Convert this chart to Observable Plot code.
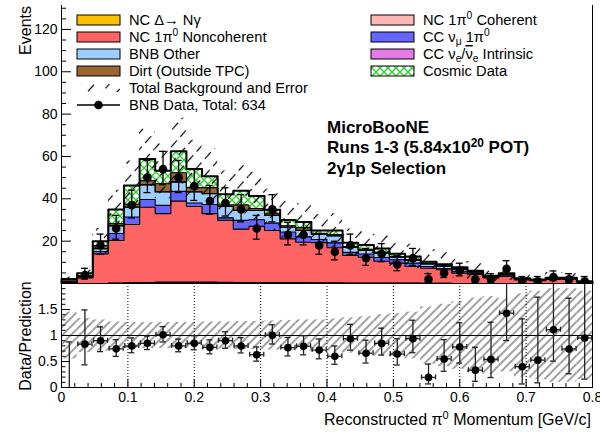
<!DOCTYPE html>
<html><head><meta charset="utf-8">
<script src="https://cdn.jsdelivr.net/npm/d3@7"></script>
<script src="https://cdn.jsdelivr.net/npm/@observablehq/plot@0.6"></script>
<style>
body{margin:0;background:#fff;}
#wrap{position:relative;width:600px;height:436px;font-family:"Liberation Sans",Arial,sans-serif;}
#wrap svg{position:absolute;left:0;}
</style></head><body><div id="wrap"></div>
<script>
// ---------------- data (34 bins, 0 - 0.8 GeV/c) ----------------
const xMin = 0, xMax = 0.8, nBins = 34;
const ncDelta       = [0,0,0,0.1,0.2,0.3,0.4,0.4,0.4,0.4,0.3,0.3,0.3,0.3,0.2,0.2,0.2,0.2,0.1,0.1,0.1,0.1,0.1,0.1,0.1,0,0,0,0,0,0,0,0,0];
const ncCoherent    = [0,0,0,0.1,0.2,0.2,0.3,0.3,0.3,0.3,0.3,0.2,0.2,0.2,0.2,0.2,0.1,0.1,0.1,0.1,0.1,0.1,0.1,0,0,0,0,0,0,0,0,0,0,0];
const ncNoncoherent = [0.3,2.6,14.0,20.1,27.5,35.5,32.3,38.2,35.7,32.3,29.2,25.2,26.5,24.5,20.7,19.1,19.0,16.6,13.0,12.2,10.3,9.4,7.8,7.1,6.4,4.9,4.3,2.6,3.3,1.7,1.3,1.9,1.9,0.7];
const ccNumu        = [0.1,0.2,1.1,3.3,3.5,3.7,3.9,4.6,1.6,4.3,1.2,4.1,3.1,3.5,3.2,2.5,1.5,2.3,1.5,1.5,1.8,1.6,1.6,0.8,0.6,0.9,0.5,0.3,0.3,0.2,0.1,0.2,0.2,0.1];
const bnbOther      = [0.3,0.5,1.3,3.6,4.6,6.9,6.3,4.4,5.2,5.1,5.4,4.7,4.4,3.7,2.3,3.0,2.5,3.3,2.5,1.8,2.0,1.2,1.3,1.2,1.0,1.0,0.6,0.4,0.8,0.3,0.2,0.3,0.3,0.1];
const ccNue         = [0,0,0,0.1,0.1,0.1,0.1,0.1,0.1,0.1,0.1,0.1,0.1,0.1,0.1,0.1,0.1,0.1,0,0,0,0,0,0,0,0,0,0,0,0,0,0,0,0];
const dirt          = [0.5,0.3,1.5,1.0,1.4,1.9,3.8,4.3,2.0,2.8,0.6,2.5,0.8,0.9,0.6,1.3,0.3,0.5,0.3,0.5,0.5,0.3,0.4,0.3,0.2,0.3,0.1,0.1,0.1,0,0.1,0.1,0,0];
const cosmic        = [0.9,1.2,2.1,6.7,8.8,10.2,6.2,10.2,8.8,5.3,5.1,6.7,5.9,1.6,2.7,2.6,1.3,1.9,1.7,2.0,1.7,1.3,1.5,0.8,0.8,0.6,0.5,0.3,0.4,0.3,0.2,0.2,0.3,0.15];
const bnbData       = [0,4,18,26,37,50,54,50,46,39,38,35,26,35,23,23,18,15,18,12,14,9,12,2,5,6,2,2,7,1,1,3,2,1];
const dataErrUp     = [1.84,3.16,5.32,6.16,7.13,8.13,8.41,8.13,7.84,7.30,7.22,6.97,6.16,6.97,5.87,5.87,5.32,4.96,5.32,4.55,4.83,4.11,4.55,2.64,3.38,3.58,2.64,2.64,3.77,2.30,2.30,2.92,2.64,2.30];
const dataErrDown   = [0,1.91,4.20,5.07,6.06,7.06,7.34,7.06,6.77,6.23,6.15,5.89,5.07,5.89,4.77,4.77,4.20,3.83,4.20,3.44,3.70,2.94,3.44,1.29,2.16,2.38,1.29,1.29,2.58,0.83,0.83,1.63,1.29,0.83];
const mcRelErr      = [0.45,0.33,0.30,0.26,0.25,0.25,0.25,0.25,0.25,0.26,0.26,0.27,0.27,0.28,0.29,0.30,0.30,0.32,0.34,0.36,0.40,0.42,0.45,0.55,0.60,0.65,0.72,0.75,0.70,0.80,0.85,0.90,0.90,0.85];
const yTicksTop   = [20,40,60,80,100,120];
const yTicksRatio = [0,0.5,1,1.5];
const xTicks      = [0,0.1,0.2,0.3,0.4,0.5,0.6,0.7,0.8];
const gridX       = [0.1,0.2,0.3,0.4,0.5,0.6,0.7];

// ---------------- derived ----------------
const binW = (xMax - xMin) / nBins;
const bins = d3.range(nBins).map(i => ({i, x1: xMin + i*binW, x2: xMin + (i+1)*binW, xc: xMin + (i+0.5)*binW}));
const layers = [
  {name:"ncDelta", values: ncDelta, fill:"#FBC000"},
  {name:"ncCoherent", values: ncCoherent, fill:"#FFB6B6"},
  {name:"ncNoncoherent", values: ncNoncoherent, fill:"#FF6464"},
  {name:"ccNumu", values: ccNumu, fill:"#6464FF"},
  {name:"bnbOther", values: bnbOther, fill:"#9ECEFF"},
  {name:"ccNue", values: ccNue, fill:"#E47BE4"},
  {name:"dirt", values: dirt, fill:"#996633"},
  {name:"cosmic", values: cosmic, fill:"url(#cosmicPat)"}
];
let cum = new Array(nBins).fill(0);
layers.forEach(L => {
  L.rows = bins.map((b,i) => ({x1:b.x1, x2:b.x2, y1:cum[i], y2:cum[i] + L.values[i]}));
  cum = cum.map((c,i) => c + L.values[i]);
  L.top = cum.slice();
});
const total = cum;
function stepPts(top){
  const p = [{x:xMin, y:0}];
  bins.forEach((b,i) => p.push({x:b.x1, y:top[i]}));
  p.push({x:xMax, y:top[nBins-1]});
  p.push({x:xMax, y:0});
  return p;
}
const pts = bins.map((b,i) => ({xc:b.xc, x1:b.x1, x2:b.x2, n:bnbData[i], up:dataErrUp[i], dn:dataErrDown[i], mc:total[i], rel:mcRelErr[i]}));
const shown = pts.filter(d => d.n > 0);
const ratio = pts.map(d => ({...d, r: d.n/d.mc, rUp: d.up/d.mc, rDn: d.dn/d.mc}));
const ratioShown = ratio.filter(d => d.n > 0);

const font = '"Liberation Sans", Arial, sans-serif';
const yTopMax = 131.3, rMax = 2;
const pxPerX = 531 / (xMax - xMin);
const pxPerR = 104 / rMax;

const yMinorTop = d3.range(5, 131, 5).filter(v => v % 20 !== 0);
const rMinor = d3.range(1, 20).map(k => k/10).filter(v => Math.abs(v*2 - Math.round(v*2)) > 1e-6);
const xMinor = d3.range(1, 40).map(k => k*0.02).filter(v => Math.abs(v*10 - Math.round(v*10)) > 1e-6);

// ---------------- top panel ----------------
const topPlot = Plot.plot({
  width: 600, height: 284, marginLeft: 61, marginRight: 8, marginTop: 5, marginBottom: 1,
  x: {domain: [xMin, xMax], axis: null},
  y: {domain: [0, yTopMax], axis: null},
  style: {fontFamily: font, fontSize: "14px", background: "transparent", color: "black"},
  marks: [
    ...layers.map(L => Plot.rect(L.rows, {x1:"x1", x2:"x2", y1:"y1", y2:"y2", fill: L.fill, shapeRendering: "crispEdges"})),
    ...layers.map((L,k) => Plot.line(stepPts(L.top), {x:"x", y:"y", curve:"step-after", stroke:"black", strokeWidth: k === layers.length-1 ? 2 : 1.1})),
    Plot.rect(pts, {x1:"x1", x2:"x2", y1: d => d.mc*(1-d.rel), y2: d => d.mc*(1+d.rel), fill:"url(#hatchTop)"}),
    Plot.ruleX(shown, {x:"xc", y1: d => d.n - d.dn, y2: d => d.n + d.up, stroke:"black", strokeWidth:1.3}),
    Plot.ruleY(shown, {y: d => d.n + d.up, x1:"xc", x2:"xc", insetLeft:-3.5, insetRight:-3.5, stroke:"black", strokeWidth:1.3}),
    Plot.ruleY(shown, {y: d => d.n - d.dn, x1:"xc", x2:"xc", insetLeft:-3.5, insetRight:-3.5, stroke:"black", strokeWidth:1.3}),
    Plot.dot(shown, {x:"xc", y:"n", r:4.3, fill:"black", stroke:"none"}),
    Plot.ruleX([xMin], {stroke:"black", strokeWidth:1}),
    Plot.ruleX([xMax], {stroke:"black", strokeWidth:1}),
    Plot.ruleY([0], {stroke:"black", strokeWidth:1.2}),
    Plot.ruleY(yTicksTop, {x1: xMin, x2: xMin + 10/pxPerX, stroke:"black"}),
    Plot.ruleY(yMinorTop, {x1: xMin, x2: xMin + 5/pxPerX, stroke:"black"}),
    Plot.axisY({ticks: yTicksTop, tickSize: 0, tickPadding: 4, label: null, fontSize: 14})
  ]
});

// ---------------- ratio panel ----------------
const ratioPlot = Plot.plot({
  width: 600, height: 153, marginLeft: 61, marginRight: 8, marginTop: 0, marginBottom: 49,
  x: {domain: [xMin, xMax], axis: null},
  y: {domain: [0, rMax], axis: null},
  style: {fontFamily: font, fontSize: "14px", background: "transparent", color: "black"},
  marks: [
    Plot.rect(ratio, {x1:"x1", x2:"x2", y1: d => Math.max(0, 1-d.rel), y2: d => Math.min(rMax, 1+d.rel), fill:"url(#hatchRatio)"}),
    Plot.ruleX(gridX, {stroke:"black", strokeDasharray:"1,2", strokeWidth:1}),
    Plot.ruleY([1], {stroke:"black", strokeWidth:1}),
    Plot.ruleX(ratio, {x:"xc", y1: d => Math.max(0, d.r - d.rDn), y2: d => Math.min(rMax, d.r + d.rUp), stroke:"#222", strokeWidth:1.3}),
    Plot.ruleY(ratio.filter(d => d.r + d.rUp < rMax), {y: d => d.r + d.rUp, x1:"xc", x2:"xc", insetLeft:-3, insetRight:-3, stroke:"#222", strokeWidth:1.3}),
    Plot.ruleY(ratioShown.filter(d => d.r - d.rDn > 0.02), {y: d => d.r - d.rDn, x1:"xc", x2:"xc", insetLeft:-3, insetRight:-3, stroke:"#222", strokeWidth:1.3}),
    Plot.ruleY(ratioShown, {y:"r", x1: d => d.xc - 0.45*binW, x2: d => d.xc + 0.45*binW, stroke:"#222", strokeWidth:1.3}),
    Plot.ruleX(ratioShown, {x: d => d.xc - 0.45*binW, y1:"r", y2:"r", insetTop:-2.5, insetBottom:-2.5, stroke:"#222", strokeWidth:1.3}),
    Plot.ruleX(ratioShown, {x: d => d.xc + 0.45*binW, y1:"r", y2:"r", insetTop:-2.5, insetBottom:-2.5, stroke:"#222", strokeWidth:1.3}),
    Plot.dot(ratioShown, {x:"xc", y:"r", r:3.8, fill:"black", stroke:"none"}),
    Plot.frame({stroke:"black", strokeWidth:1}),
    Plot.ruleY(yTicksRatio, {x1: xMin, x2: xMin + 9/pxPerX, stroke:"black"}),
    Plot.ruleY(rMinor, {x1: xMin, x2: xMin + 4.5/pxPerX, stroke:"black"}),
    Plot.ruleX(xTicks, {y1: 0, y2: 8/pxPerR, stroke:"black"}),
    Plot.ruleX(xMinor, {y1: 0, y2: 4/pxPerR, stroke:"black"}),
    Plot.axisY({ticks: yTicksRatio, tickSize: 0, tickPadding: 4, label: null, fontSize: 14, tickFormat: d => String(d)}),
    Plot.axisX({ticks: xTicks, tickSize: 0, tickPadding: 5, label: null, fontSize: 14, tickFormat: d => d === 0 ? "0" : d.toFixed(1)})
  ]
});

const wrap = document.getElementById("wrap");
topPlot.style.top = "0px";
ratioPlot.style.top = "283px";
wrap.appendChild(topPlot);
wrap.appendChild(ratioPlot);

// ---------------- overlay: patterns, legend, titles ----------------
const ov = d3.select(wrap).append("svg").attr("width", 600).attr("height", 436)
  .style("top", "0px").style("pointer-events", "none")
  .style("font-family", font).style("white-space", "pre");
const defs = ov.append("defs");
const pTop = defs.append("pattern").attr("id", "hatchTop").attr("patternUnits", "userSpaceOnUse")
  .attr("width", 11).attr("height", 14).attr("patternTransform", "rotate(42)");
pTop.append("line").attr("x1", 5.5).attr("y1", 0).attr("x2", 5.5).attr("y2", 14)
  .attr("stroke", "black").attr("stroke-width", 1.2).attr("stroke-dasharray", "9,5");
const pR = defs.append("pattern").attr("id", "hatchRatio").attr("patternUnits", "userSpaceOnUse")
  .attr("width", 6).attr("height", 6).attr("patternTransform", "rotate(45)");
pR.append("line").attr("x1", 3).attr("y1", 0).attr("x2", 3).attr("y2", 6)
  .attr("stroke", "#a0a0a0").attr("stroke-width", 2);
const pC = defs.append("pattern").attr("id", "cosmicPat").attr("patternUnits", "userSpaceOnUse")
  .attr("width", 8).attr("height", 8);
pC.append("rect").attr("width", 8).attr("height", 8).attr("fill", "white");
pC.append("path").attr("d", "M0,0L8,8M8,0L0,8").attr("stroke", "#2ccf2c").attr("stroke-width", 1.4);

// legend
const legFont = 14.7;
function addText(g, x, y, parts, opts = {}) {
  const size = opts.size || legFont;
  const t = g.append("text").attr("x", x).attr("y", y).attr("font-size", size)
    .attr("font-weight", opts.weight || "normal").attr("fill", "black");
  let shift = 0;
  parts.forEach(p => {
    const s = typeof p === "string" ? {t: p} : p;
    let target = 0;
    if (s.sup) target = -size * 0.38;
    if (s.sub) target = size * 0.22;
    const ts = t.append("tspan").text(s.t).attr("dy", target - shift);
    shift = target;
    if (s.sup || s.sub) ts.attr("font-size", size * 0.7);
    if (s.over) ts.style("text-decoration", "overline");
  });
  return t;
}
const rowY = [20, 37, 54, 71, 88, 105];
const boxL = 77, boxR = 371, boxW = 43, boxH = 10, txtL = 129, txtR = 423;
const legLeft = [
  {fill:"#FBC000", parts:["NC Δ→ Nγ"]},
  {fill:"#FF6464", parts:["NC 1π", {t:"0", sup:true}, " Noncoherent"]},
  {fill:"#9ECEFF", parts:["BNB Other"]},
  {fill:"#996633", parts:["Dirt (Outside TPC)"]}
];
const legRight = [
  {fill:"#FFB6B6", parts:["NC 1π", {t:"0", sup:true}, " Coherent"]},
  {fill:"#6464FF", parts:["CC ν", {t:"μ", sub:true}, " 1π", {t:"0", sup:true}]},
  {fill:"#E47BE4", parts:["CC ν", {t:"e", sub:true}, "/", {t:"ν", over:true}, {t:"e", sub:true}, " Intrinsic"]},
  {fill:"url(#cosmicPat)", parts:["Cosmic Data"]}
];
const lg = ov.append("g");
legLeft.forEach((e, k) => {
  lg.append("rect").attr("x", boxL).attr("y", rowY[k] - boxH/2).attr("width", boxW).attr("height", boxH)
    .attr("fill", e.fill).attr("stroke", "black").attr("stroke-width", 1);
  addText(lg, txtL, rowY[k] + 5, e.parts);
});
legRight.forEach((e, k) => {
  lg.append("rect").attr("x", boxR).attr("y", rowY[k] - boxH/2).attr("width", boxW).attr("height", boxH)
    .attr("fill", e.fill).attr("stroke", "black").attr("stroke-width", 1);
  addText(lg, txtR, rowY[k] + 5, e.parts);
});
lg.append("rect").attr("x", boxL).attr("y", rowY[4] - 4).attr("width", boxW).attr("height", 8).attr("fill", "url(#hatchTop)");
addText(lg, txtL, rowY[4] + 5, ["Total Background and Error"]);
lg.append("line").attr("x1", boxL).attr("x2", boxL + boxW).attr("y1", rowY[5]).attr("y2", rowY[5]).attr("stroke", "black").attr("stroke-width", 1.3);
lg.append("circle").attr("cx", boxL + boxW/2).attr("cy", rowY[5]).attr("r", 4.3).attr("fill", "black");
addText(lg, txtL, rowY[5] + 5, ["BNB Data, Total: " + d3.sum(bnbData)]);

// MicroBooNE block
const tb = ov.append("g");
addText(tb, 327, 132.5, ["MicroBooNE"], {size: 17, weight: "bold"});
addText(tb, 327, 153, ["Runs 1-3  (5.84x10", {t:"20", sup:true}, " POT)"], {size: 17, weight: "bold"});
addText(tb, 327, 173.5, ["2γ1p Selection"], {size: 17, weight: "bold"});

// axis titles
ov.append("text").attr("transform", "translate(31,6) rotate(-90)").attr("text-anchor", "end")
  .attr("font-size", 16).text("Events");
ov.append("text").attr("transform", "translate(31,336) rotate(-90)").attr("text-anchor", "middle")
  .attr("font-size", 16).text("Data/Prediction");
const xt = ov.append("text").attr("x", 591).attr("y", 425).attr("text-anchor", "end").attr("font-size", 16);
xt.append("tspan").text("Reconstructed π");
xt.append("tspan").attr("dy", -6).attr("font-size", 11).text("0");
xt.append("tspan").attr("dy", 6).text(" Momentum [GeV/c]");
</script></body></html>
